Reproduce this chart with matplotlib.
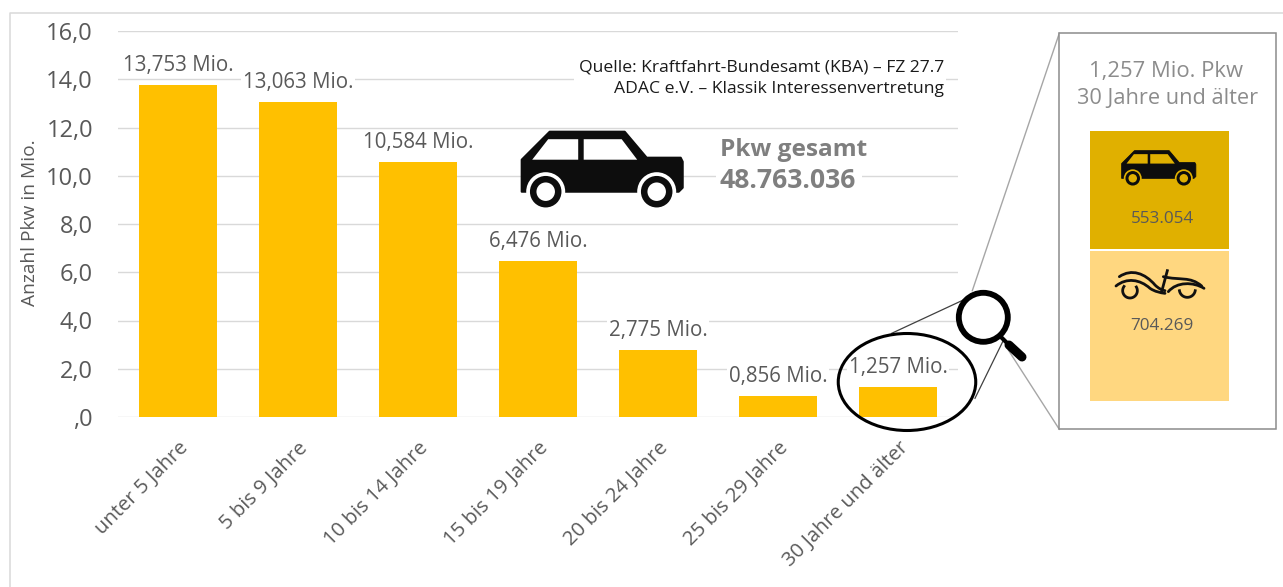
import numpy as np
import matplotlib
matplotlib.use("Agg")
import matplotlib.pyplot as plt
from matplotlib.patches import Polygon, Circle, Ellipse, Rectangle, PathPatch
from matplotlib.path import Path

plt.rcParams['font.family'] = ['Open Sans', 'DejaVu Sans']

categories = ["unter 5 Jahre", "5 bis 9 Jahre", "10 bis 14 Jahre", "15 bis 19 Jahre",
              "20 bis 24 Jahre", "25 bis 29 Jahre", "30 Jahre und älter"]
values = [13.753, 13.063, 10.584, 6.476, 2.775, 0.856, 1.257]
y_ticks = [0, 2, 4, 6, 8, 10, 12, 14, 16]
y_tick_labels = [",0", "2,0", "4,0", "6,0", "8,0", "10,0", "12,0", "14,0", "16,0"]
ylabel = "Anzahl Pkw in Mio."
source_lines = ["Quelle: Kraftfahrt-Bundesamt (KBA) – FZ 27.7", "ADAC e.V. – Klassik Interessenvertretung"]
total_lines = ["Pkw gesamt", "48.763.036"]
panel_lines = ["1,257 Mio. Pkw", "30 Jahre und älter"]
panel_values = ["553.054", "704.269"]

W, H = 1283, 587
fig = plt.figure(figsize=(W / 100, H / 100), dpi=100, facecolor="white")
GREY = "#595959"

ax = fig.add_axes([118 / W, 1 - 417 / H, 840 / W, 386 / H])
ax.set_xlim(-0.5, 6.5)
ax.set_ylim(0, 16)
ax.bar(range(7), values, width=0.647, color="#FFC000", zorder=2)
ax.set_yticks(y_ticks, y_tick_labels, fontsize=17, color=GREY)
ax.set_xticks(range(7), categories, fontsize=14.6, color=GREY, rotation=45,
              ha="right", rotation_mode="anchor")
ax.tick_params(axis="both", length=0)
ax.tick_params(axis="y", pad=18)
ax.tick_params(axis="x", pad=15)
ax.grid(axis="y", color="#d9d9d9", lw=1, zorder=0)
ax.set_axisbelow(True)
for s in ax.spines.values():
    s.set_visible(False)
for i, v in enumerate(values):
    ax.annotate(f"{v:.3f}".replace(".", ",") + " Mio.", (i, v), xytext=(0, 14),
                textcoords="offset points", ha="center", va="center",
                fontsize=14.8, color=GREY, zorder=3,
                bbox=dict(fc="white", ec="none", pad=1))

ov = fig.add_axes([0, 0, 1, 1], facecolor="none")
ov.set_xlim(0, W)
ov.set_ylim(H, 0)
ov.axis("off")
ov.set_zorder(5)

# outer frame
ov.plot([9.5, 9.5, W], [H, 12.5, 12.5], color="#d9d9d9", lw=1.1)

ov.text(30, 223, ylabel, rotation=90, ha="center", va="center", fontsize=13.8, color=GREY)

# source / total text
ov.add_patch(Rectangle((574, 54), 372, 46, fc="white", ec="none"))
ov.text(944, 67, source_lines[0], ha="right", va="center", fontsize=12.6, color="#1a1a1a")
ov.text(944, 89, source_lines[1], ha="right", va="center", fontsize=12.6, color="#1a1a1a")
ov.add_patch(Rectangle((716, 134), 146, 60, fc="white", ec="none"))
ov.text(720, 150, total_lines[0], ha="left", va="center", fontsize=17.6, fontweight="bold", color="#7f7f7f")
ov.text(720, 181, total_lines[1], ha="left", va="center", fontsize=19.2, fontweight="bold", color="#7f7f7f")


def car(x0, y0, s, bg):
    """Car pictogram, local units are pixels of the large icon."""
    def T(pts):
        return [(x0 + s * a, y0 + s * b) for a, b in pts]
    body = [(0, 56), (0, 28), (28, 0), (103, 0), (125, 26), (159, 26), (161, 30), (161, 56),
            (157, 60), (0, 60)]
    ov.add_patch(Polygon(T(body), fc="#0d0d0d", ec="#0d0d0d", lw=1.5 * s, joinstyle="round", zorder=6))
    for cx in (24, 135):
        ov.add_patch(Circle(T([(cx, 60)])[0], 19.5 * s, fc=bg, ec="none", zorder=7))
        ov.add_patch(Rectangle((x0 + s * (cx - 20), y0 + s * 61), 40 * s, 20 * s, fc=bg, ec="none", zorder=7))
        ov.add_patch(Circle(T([(cx, 60)])[0], 12.5 * s, fc=bg, ec="#0d0d0d", lw=6.5 * s * 0.72, zorder=8))
    for win in ([(10.5, 28), (26.5, 7.5), (56.5, 7.5), (56.5, 28)],
                [(62, 7.5), (100, 7.5), (115.5, 28), (62, 28)]):
        ov.add_patch(Polygon(T(win), fc=bg, ec="none", zorder=8))


car(521.7, 131.7, 1.0, "white")

# zoom panel connectors
ov.plot([1059.3, 972.3], [33.3, 290.7], color="#a6a6a6", lw=1)
ov.plot([1059.3, 1008.3], [429.3, 350], color="#a6a6a6", lw=1)
ov.plot([891.7, 963.3], [333.3, 300], color="#404040", lw=0.9)
ov.plot([975, 1002.7], [398.3, 341.7], color="#404040", lw=0.9)

# ellipse and magnifier
ov.add_patch(Ellipse((907, 382), 137.5, 97, fc="none", ec="black", lw=2.2, zorder=6))
ov.add_patch(Circle((983.3, 317.3), 24.5, fc="none", ec="black", lw=4.2, zorder=6))
ov.plot([1000, 1009], [336, 345], color="black", lw=3, zorder=6)
ov.plot([1009, 1022], [345, 357], color="black", lw=6.5, solid_capstyle="round", zorder=6)

# panel
ov.add_patch(Rectangle((1059.3, 33.3), 216.4, 396, fc="white", ec="#8c8c8c", lw=1.1, zorder=4))
ov.text(1165.7, 71, panel_lines[0], ha="center", va="center", fontsize=15.8, color="#8c8c8c", zorder=6)
ov.text(1168, 98, panel_lines[1], ha="center", va="center", fontsize=15.7, color="#8c8c8c", zorder=6)
ov.add_patch(Rectangle((1090, 130.7), 139.3, 118, fc="#E0B000", ec="none", zorder=5))
ov.add_patch(Rectangle((1090, 251.3), 139.3, 149.7, fc="#FFD780", ec="none", zorder=5))
ov.text(1162, 218.7, panel_values[0], ha="center", va="center", fontsize=12.3, color=GREY, zorder=6)
ov.text(1161.7, 326.5, panel_values[1], ha="center", va="center", fontsize=12.3, color=GREY, zorder=6)
car(1121.7, 150.7, 0.46, "#E0B000")


# vintage car pictogram
def V(zx, zy):
    return (1100 + zx / 3, 260 + zy / 3)


strokes = [
    [(58, 50), (95, 25), (135, 40), (165, 75), (175, 85), (185, 90), (195, 92)],
    [(48, 78), (80, 52), (120, 58), (150, 85), (165, 95), (180, 98), (195, 100)],
    [(190, 50), (240, 62), (270, 48), (305, 78)],
    [(205, 95), (230, 65), (280, 65), (312, 85)],
]
for st in strokes:
    pts = [V(*p) for p in st]
    codes = [Path.MOVETO] + [Path.CURVE4] * (len(pts) - 1)
    ov.add_patch(PathPatch(Path(pts, codes), fc="none", ec="#111111", lw=2, capstyle="round", zorder=7))
ov.plot(*zip(V(202, 32), V(185, 95)), color="#111111", lw=2, zorder=7)
for (cx, cy, r, a0, a1) in [(90, 92, 22, -30, 215), (262, 88, 24, 10, 170)]:
    t = np.radians(np.linspace(a0, a1, 40))
    xs, ys = zip(*[V(cx + r * np.cos(a), cy + r * np.sin(a)) for a in t])
    ov.plot(xs, ys, color="#111111", lw=2, zorder=7)

fig.savefig("out.png", dpi=100, facecolor="white")
